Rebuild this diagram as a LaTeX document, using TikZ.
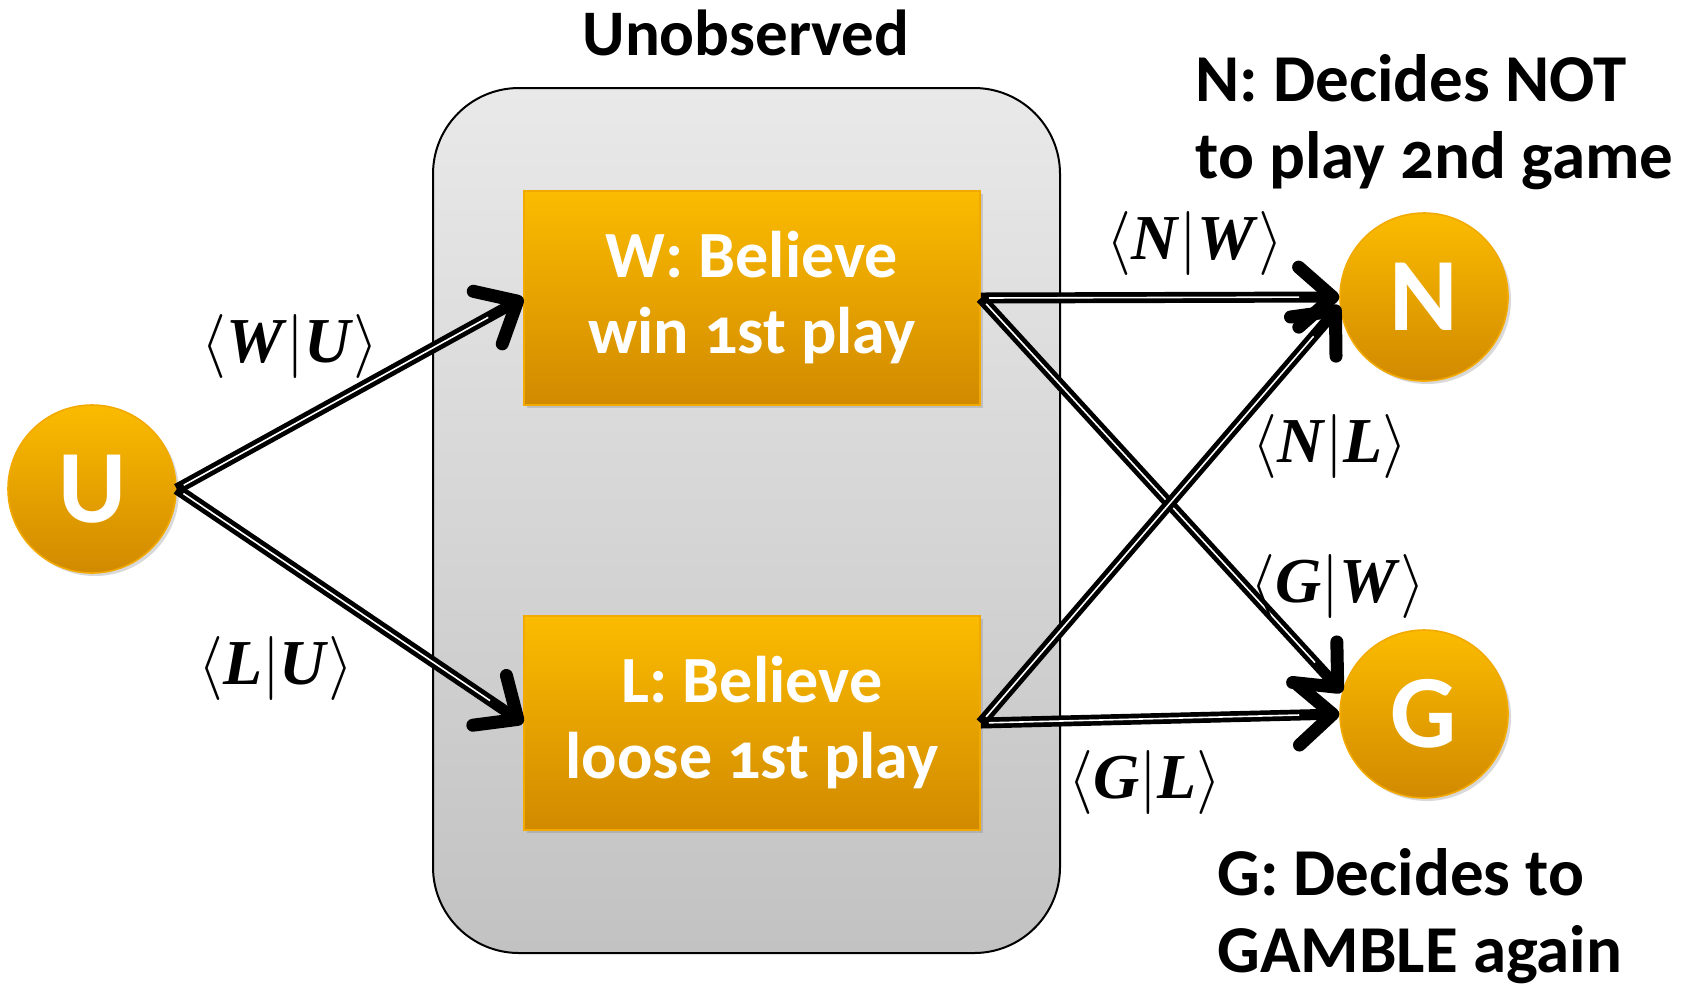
\documentclass[tikz,border=0pt]{standalone}
\usepackage{amsmath,amssymb}
\usepackage{fix-cm}
\usepackage{fontspec}
\setmainfont{Carlito}[Numbers=OldStyle]
\newfontfamily\probfont{Liberation Serif}
\usetikzlibrary{arrows.meta}
\usetikzlibrary{shadows}

\definecolor{ambertop}{HTML}{FBBB00}
\definecolor{amberbot}{HTML}{D18A00}
\definecolor{amberline}{HTML}{F2A900}
\definecolor{greytop}{HTML}{E9E9E9}
\definecolor{greybot}{HTML}{C2C2C2}

% conditional label <A|B>
\newcommand{\cond}[2]{$\langle$\textbf{\textit{#1}}$|$\textbf{\textit{#2}}$\rangle$}

\tikzset{
  softshadow/.style={drop shadow={opacity=0.3, shadow xshift=1.5pt, shadow yshift=-1.5pt}},
  belief/.style={rectangle, draw=amberline, line width=0.8pt, top color=ambertop, bottom color=amberbot,
    minimum width=228pt, minimum height=107pt, align=center, text=white, softshadow,
    font=\fontsize{33}{38}\selectfont\bfseries},
  choice/.style={circle, draw=amberline, line width=0.8pt, top color=ambertop, bottom color=amberbot,
    minimum size=84pt, inner sep=0pt, text=white, softshadow, font=\fontsize{52}{52}\selectfont\bfseries},
  prob/.style={inner sep=0pt, font=\fontsize{32}{36}\selectfont\probfont},
  caption/.style={inner sep=0pt, align=left, font=\fontsize{33.5}{38.5}\selectfont\bfseries},
  link/.style={draw=black, line width=5.5pt, -{Straight Barb[length=17pt,width=30pt,line width=6.5pt,round]},
    postaction={draw=white, line width=0.8pt, -, shorten >=20pt, shorten <=4pt}}
}

\begin{document}
\begin{tikzpicture}[x=0.5pt, y=-0.5pt]
  \useasboundingbox (0,0) rectangle (1684,987);

  % hidden stage
  \draw [black, line width=1pt, top color=greytop, bottom color=greybot, rounded corners=43pt]
    (433,88) rectangle (1060,953);
  \node [inner sep=0pt, font=\fontsize{32.5}{38}\selectfont\bfseries] (hidden) at (746,33) {Unobserved};

  \node [belief] (W) at (752,298) {W: Believe\\win 1st play};
  \node [belief] (L) at (752,723) {L: Believe\\loose 1st play};

  \node [choice] (U) at (92,489) {U};
  \node [choice] (N) at (1424,297) {N};
  \node [choice] (G) at (1424,714) {G};

  \draw [link] (U.east) -- (W.west);
  \draw [link] (U.east) -- (L.west);
  \draw [link] (W.east) -- (N.west);
  \draw [link] (W.east) -- (G.165);
  \draw [link] (L.east) -- (N.186);
  \draw [link] (L.east) -- (G.west);

  \node [prob] (wu) at (290,346) {\cond{W}{U}};
  \node [prob] (lu) at (276,668) {\cond{L}{U}};
  \node [prob] (nw) at (1195,243) {\cond{N}{W}};
  \node [prob] (nl) at (1330,446) {\cond{N}{L}};
  \node [prob] (gw) at (1338,586) {\cond{G}{W}};
  \node [prob] (gl) at (1145,782) {\cond{G}{L}};

  \node [caption, anchor=west] (ntext) at (1195,122) {N: Decides NOT\\to play 2nd game};
  \node [caption, anchor=west] (gtext) at (1217,916) {G: Decides to\\GAMBLE again};
\end{tikzpicture}
\end{document}
